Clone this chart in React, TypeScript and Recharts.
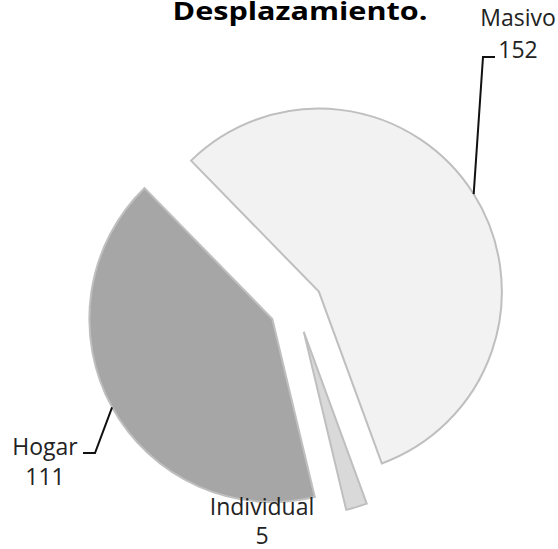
import React from "react";
import { PieChart, Pie, Cell } from "recharts";

// ---- data ----
const categories = ["Masivo", "Individual", "Hogar"];
const values = [152, 5, 111];
const title = "Desplazamiento.";

// ---- style / layout ----
const colors = ["#F2F2F2", "#D9D9D9", "#A6A6A6"];
const W = 558;
const H = 549;
const CX = 296;
const CY = 306;
const R = 183;
const EXPLODE = 27;
const START = 134.3;
const END = START - 360;
const RAD = Math.PI / 180;
const FONT = "'Open Sans', 'Noto Sans', sans-serif";

const data = categories.map((name, i) => ({ name, value: values[i] }));
const total = values.reduce((a, b) => a + b, 0);
const mids = values.map((v, i) => {
  const before = values.slice(0, i).reduce((a, b) => a + b, 0);
  return START - ((before + v / 2) / total) * 360;
});

const labelLayout: { x: number; y1: number; y2: number; leader: number[][] | null }[] = [
  { x: 518, y1: 26, y2: 58, leader: [[483, 57], [495, 57]] },
  { x: 262, y1: 515, y2: 544, leader: null },
  { x: 45, y1: 455, y2: 485, leader: [[95, 453], [83, 453]] },
];

const renderLabel = (props: any) => {
  const { cx, cy, midAngle, outerRadius, index, name, value } = props;
  const L = labelLayout[index];
  if (!L) return null;
  const r = outerRadius + EXPLODE;
  const sx = cx + r * Math.cos(-midAngle * RAD);
  const sy = cy + r * Math.sin(-midAngle * RAD);
  const pts = L.leader ? [[sx, sy], ...L.leader] : null;
  return (
    <g key={`lbl-${index}`}>
      {pts && (
        <polyline
          points={pts.map((p) => p.join(",")).join(" ")}
          fill="none"
          stroke="#111"
          strokeWidth={2}
        />
      )}
      <text x={L.x} y={L.y1} textAnchor="middle" fontFamily={FONT} fontSize={23} fill="#222">
        {name}
      </text>
      <text x={L.x} y={L.y2} textAnchor="middle" fontFamily={FONT} fontSize={23} fill="#222">
        {value}
      </text>
    </g>
  );
};

export default function App() {
  return (
    <div style={{ position: "absolute", left: 0, top: 0, width: W, height: H, background: "#fff" }}>
      <PieChart width={W} height={H} margin={{ top: 0, right: 0, bottom: 0, left: 0 }}>
        {mids.map((mid, k) => (
          <Pie
            key={`pie-${k}`}
            data={data}
            dataKey="value"
            nameKey="name"
            cx={CX + EXPLODE * Math.cos(mid * RAD)}
            cy={CY - EXPLODE * Math.sin(mid * RAD)}
            outerRadius={R}
            innerRadius={0}
            startAngle={START}
            endAngle={END}
            isAnimationActive={false}
            labelLine={false}
          >
            {data.map((d, i) => (
              <Cell
                key={`c-${k}-${i}`}
                fill={i === k ? colors[i] : "none"}
                stroke={i === k ? "#BFBFBF" : "none"}
                strokeWidth={2}
              />
            ))}
          </Pie>
        ))}
        <Pie
          data={data}
          dataKey="value"
          nameKey="name"
          cx={CX}
          cy={CY}
          outerRadius={R}
          innerRadius={0}
          startAngle={START}
          endAngle={END}
          isAnimationActive={false}
          labelLine={false}
          label={renderLabel}
        >
          {data.map((d, i) => (
            <Cell key={`l-${i}`} fill="none" stroke="none" />
          ))}
        </Pie>
        <text
          x={300}
          y={20}
          textAnchor="middle"
          fontFamily={FONT}
          fontWeight="bold"
          fontSize={25}
          textLength={255}
          lengthAdjust="spacingAndGlyphs"
          fill="#000"
        >
          {title}
        </text>
      </PieChart>
    </div>
  );
}
